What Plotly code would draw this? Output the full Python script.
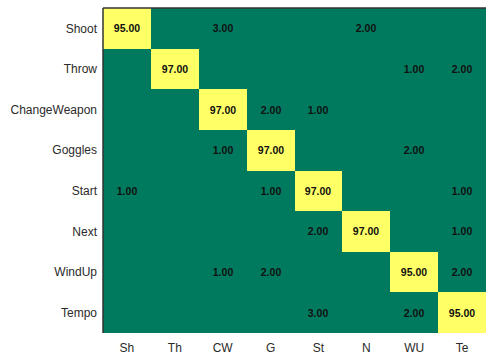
import plotly.graph_objects as go

# Confusion matrix of gesture recognition (percent)
row_labels = ["Shoot", "Throw", "ChangeWeapon", "Goggles", "Start", "Next", "WindUp", "Tempo"]
col_labels = ["Sh", "Th", "CW", "G", "St", "N", "WU", "Te"]

shoot = [95, 0, 3, 0, 0, 2, 0, 0]
throw = [0, 97, 0, 0, 0, 0, 1, 2]
change_weapon = [0, 0, 97, 2, 1, 0, 0, 0]
goggles = [0, 0, 1, 97, 0, 0, 2, 0]
start = [1, 0, 0, 1, 97, 0, 0, 1]
next_ = [0, 0, 0, 0, 2, 97, 0, 1]
wind_up = [0, 0, 1, 2, 0, 0, 95, 2]
tempo = [0, 0, 0, 0, 3, 0, 2, 95]

matrix = [shoot, throw, change_weapon, goggles, start, next_, wind_up, tempo]

GREEN = "#007A5E"
YELLOW = "#FFFF66"

# diagonal cells highlighted, the rest share one colour
z = [[1 if i == j else 0 for j in range(len(col_labels))] for i in range(len(row_labels))]
text = [[f"{v:.2f}" if v else "" for v in row] for row in matrix]

fig = go.Figure(
    go.Heatmap(
        z=z,
        x=col_labels,
        y=row_labels,
        text=text,
        texttemplate="%{text}",
        textfont=dict(family="Liberation Sans, Arial, sans-serif", size=10.5, color="#111111", weight="bold"),
        colorscale=[[0, GREEN], [1, YELLOW]],
        zmin=0,
        zmax=1,
        showscale=False,
        hoverinfo="skip",
        xgap=0,
        ygap=0,
    )
)

fig.update_layout(
    width=486,
    height=354,
    margin=dict(l=103, r=0, t=8, b=21),
    paper_bgcolor="white",
    plot_bgcolor="white",
    font=dict(family="Liberation Sans, Arial, sans-serif", size=12, color="#2a2a2a"),
    xaxis=dict(showgrid=False, zeroline=False, ticks="", tickfont=dict(size=12),
               ticklabelstandoff=6),
    yaxis=dict(showgrid=False, zeroline=False, ticks="", autorange="reversed",
               tickfont=dict(size=12), ticklabelstandoff=5),
    shapes=[
        dict(type="line", xref="paper", yref="paper", x0=0, x1=1, y0=1, y1=1,
             line=dict(color="#333333", width=1.5)),
        dict(type="line", xref="paper", yref="paper", x0=0, x1=0, y0=0, y1=1,
             line=dict(color="#333333", width=1.5)),
    ],
)

fig.write_html("out.html")
